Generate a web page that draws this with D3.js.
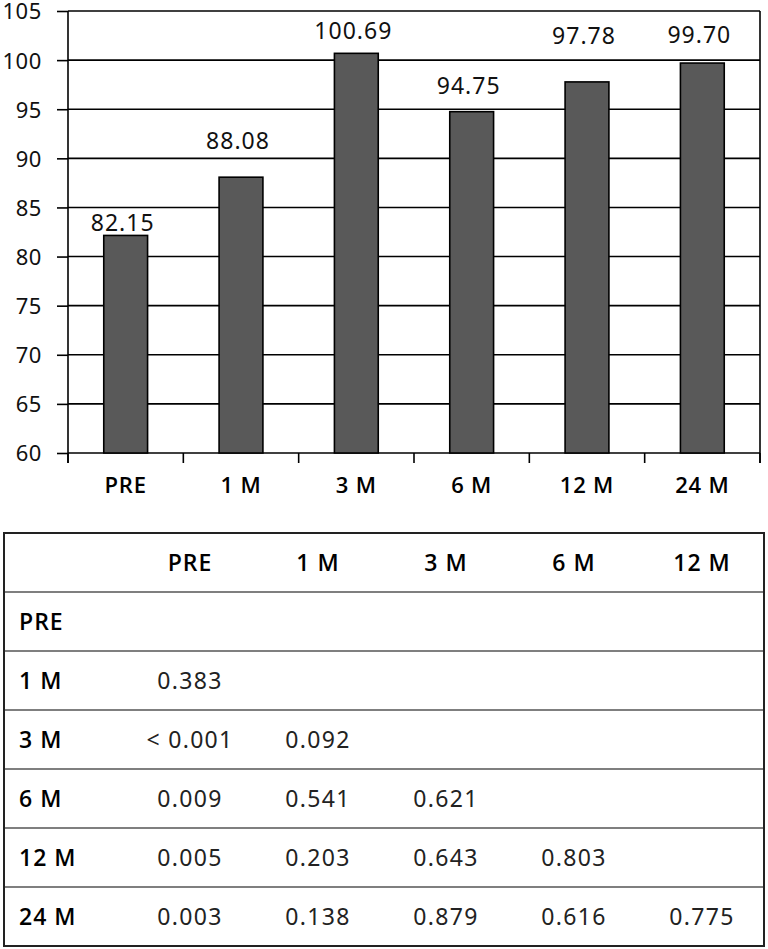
<!DOCTYPE html>
<html>
<head>
<meta charset="utf-8">
<script src="https://cdn.jsdelivr.net/npm/d3@7"></script>
<style>
  html, body { margin: 0; padding: 0; background: #fff; }
  svg { display: block; }
  text { font-family: "Noto Sans", "Open Sans", sans-serif; }
  .b { font-family: "Open Sans", "Noto Sans", sans-serif; font-weight: 600; }
</style>
</head>
<body>
<svg id="chart" width="768" height="949"></svg>
<script>
// ---- Data ----
const categories = ["PRE", "1 M", "3 M", "6 M", "12 M", "24 M"];
const values = [82.15, 88.08, 100.69, 94.75, 97.78, 99.70];
const valueLabels = ["82.15", "88.08", "100.69", "94.75", "97.78", "99.70"];
// level (in axis units) where each value label sits
const labelLevel = [82.6, 91.0, 102.2, 96.6, 101.6, 101.7];
const yTicks = [60, 65, 70, 75, 80, 85, 90, 95, 100, 105];

const tableCols = ["PRE", "1 M", "3 M", "6 M", "12 M"];
const tableRows = ["PRE", "1 M", "3 M", "6 M", "12 M", "24 M"];
const rowPRE = [];
const row1M = ["0.383"];
const row3M = ["< 0.001", "0.092"];
const row6M = ["0.009", "0.541", "0.621"];
const row12M = ["0.005", "0.203", "0.643", "0.803"];
const row24M = ["0.003", "0.138", "0.879", "0.616", "0.775"];
const pValues = [rowPRE, row1M, row3M, row6M, row12M, row24M];

(function () {
// ---- Chart ----
const svg = d3.select("#chart");
const pLeft = 68, pRight = 760, pTop = 11, pBottom = 453;

const x = d3.scaleBand().domain(categories).range([pLeft, pRight]).padding(0);
const y = d3.scaleLinear().domain([60, 105]).range([pBottom, pTop]);

const g = svg.append("g");

// gridlines
g.selectAll("line.grid").data(yTicks).join("line")
  .attr("x1", pLeft).attr("x2", pRight)
  .attr("y1", d => y(d)).attr("y2", d => y(d))
  .attr("stroke", "#000").attr("stroke-width", 1.6);

// y axis
const yAxis = d3.axisLeft(y).tickValues(yTicks).tickSize(11).tickPadding(15).tickFormat(d3.format("d"));
const ya = g.append("g").attr("transform", `translate(${pLeft},0)`).call(yAxis);
ya.select(".domain").remove();
ya.selectAll(".tick line").attr("stroke", "#000").attr("stroke-width", 1.6);
ya.selectAll(".tick text").attr("font-size", 22).attr("fill", "#111")
  .attr("font-family", "'Noto Sans', sans-serif").attr("letter-spacing", 0.6).attr("dy", "0.36em");

// y axis line and right border
g.append("line").attr("x1", pLeft).attr("x2", pLeft).attr("y1", pTop).attr("y2", pBottom + 10)
  .attr("stroke", "#000").attr("stroke-width", 1.6);
g.append("line").attr("x1", pRight).attr("x2", pRight).attr("y1", pTop).attr("y2", pBottom + 10)
  .attr("stroke", "#000").attr("stroke-width", 1.6);

// x axis ticks at category boundaries
const boundaries = categories.map(c => x(c)).concat([pRight]);
g.selectAll("line.xt").data(boundaries).join("line")
  .attr("x1", d => d).attr("x2", d => d)
  .attr("y1", pBottom).attr("y2", pBottom + 10)
  .attr("stroke", "#000").attr("stroke-width", 1.6);

// x labels
g.selectAll("text.xl").data(categories).join("text")
  .attr("class", "b")
  .attr("x", d => x(d) + x.bandwidth() / 2)
  .attr("y", 493)
  .attr("text-anchor", "middle")
  .attr("font-size", 22).attr("letter-spacing", 0.8).attr("fill", "#000")
  .text(d => d);

// bars
const barW = x.bandwidth() * 0.38;
g.selectAll("rect.bar").data(values).join("rect")
  .attr("x", (d, i) => x(categories[i]) + x.bandwidth() / 2 - barW / 2)
  .attr("width", barW)
  .attr("y", d => y(d))
  .attr("height", d => y(60) - y(d))
  .attr("fill", "#595959").attr("stroke", "#000").attr("stroke-width", 1.6);

// value labels
g.selectAll("text.vl").data(valueLabels).join("text")
  .attr("x", (d, i) => x(categories[i]) + x.bandwidth() / 2 - 3)
  .attr("y", (d, i) => y(labelLevel[i]))
  .attr("text-anchor", "middle")
  .attr("font-size", 23).attr("letter-spacing", 1).attr("fill", "#111")
  .text(d => d);

// ---- Table ----
const tLeft = 4, tRight = 764, tTop = 533, rowH = 59;
const nRows = tableRows.length + 1;
const colX = d3.scalePoint().domain(tableCols).range([190, 702]);
const rowY = d3.scaleBand().domain(["header"].concat(tableRows)).range([tTop, tTop + rowH * nRows]);

const t = svg.append("g");
t.selectAll("line.row").data(tableRows).join("line")
  .attr("x1", tLeft).attr("x2", tRight)
  .attr("y1", d => rowY(d)).attr("y2", d => rowY(d))
  .attr("stroke", "#555").attr("stroke-width", 1.5);
t.append("rect").attr("x", tLeft).attr("y", tTop)
  .attr("width", tRight - tLeft).attr("height", rowH * nRows)
  .attr("fill", "none").attr("stroke", "#222").attr("stroke-width", 2);

t.selectAll("text.h").data(tableCols).join("text")
  .attr("class", "b")
  .attr("x", d => colX(d)).attr("y", rowY("header") + rowH / 2)
  .attr("dy", "0.35em").attr("text-anchor", "middle")
  .attr("font-size", 23).attr("letter-spacing", 1).attr("fill", "#000")
  .text(d => d);

t.selectAll("text.r").data(tableRows).join("text")
  .attr("class", "b")
  .attr("x", 19).attr("y", d => rowY(d) + rowH / 2)
  .attr("dy", "0.35em")
  .attr("font-size", 23).attr("letter-spacing", 1).attr("fill", "#000")
  .text(d => d);

tableRows.forEach((r, ri) => {
  t.append("g").selectAll("text").data(pValues[ri]).join("text")
    .attr("x", (d, ci) => colX(tableCols[ci]))
    .attr("y", rowY(r) + rowH / 2)
    .attr("dy", "0.35em").attr("text-anchor", "middle")
    .attr("font-size", 23).attr("letter-spacing", 1.3).attr("fill", "#222")
    .text(d => d);
});
})();
</script>
</body>
</html>
